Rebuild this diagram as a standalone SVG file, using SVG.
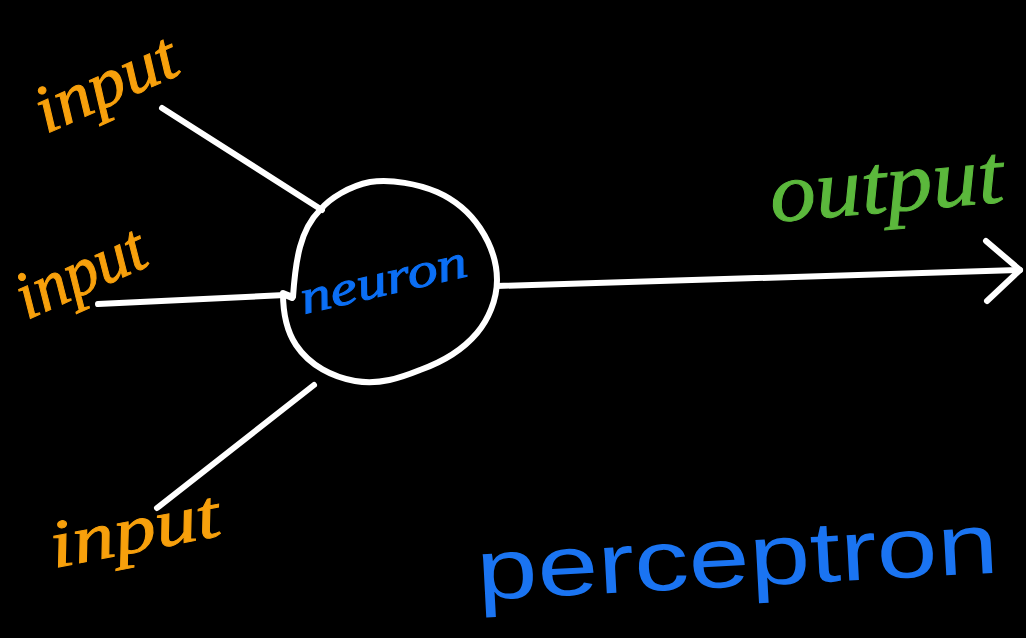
<svg xmlns="http://www.w3.org/2000/svg" width="1026" height="638" viewBox="0 0 1026 638">
  <style>
    .wire { fill: none; stroke: #ffffff; stroke-width: 6; stroke-linecap: round; stroke-linejoin: round; }
    .script { font-family: "Liberation Serif", "DejaVu Serif", serif; font-style: italic; }
    .in { fill: #f7a00c; font-size: 68px; stroke: #f7a00c; stroke-width: 1; }
    .out { fill: #5bb83c; font-size: 84px; stroke: #5bb83c; stroke-width: 1; }
    .cell { fill: #0b6ff5; font-size: 48px; stroke: #0b6ff5; stroke-width: 1; }
    .title { fill: #1a74f2; font-family: "Liberation Sans", "DejaVu Sans", sans-serif; font-size: 86px; }
  </style>

  <rect width="1026" height="638" fill="#000000"/>

  <!-- input edges and output arrow -->
  <g id="connectors">
    <path class="wire" d="M162,108 L322,210"/>
    <path class="wire" d="M98,304 L285,295 L292,298"/>
    <path class="wire" d="M157,508 L314,385"/>
    <path class="wire" d="M497,286 L1020,270"/>
    <path class="wire" d="M986,241 L1020,270 L987,301"/>
  </g>

  <!-- neuron body -->
  <g id="neuron">
    <path class="wire" d="M320,210 C330,198 350,186 370,182 C392,179 418,184 437,192 C455,200 470,213 480,228 C490,243 497,260 497,280 C497,300 488,320 477,333 C466,346 448,360 420,370 C400,378 380,385 355,381 C333,377 310,366 296,345 C286,330 283,313 283,293 L293,297 C294,282 296,262 300,247 C304,232 310,220 320,210 Z"/>
    <text class="script cell" x="0" y="0" transform="translate(304,314) rotate(-13)" textLength="170" lengthAdjust="spacingAndGlyphs">neuron</text>
  </g>

  <g id="input-1">
    <text class="script in" x="0" y="0" transform="translate(46,134) rotate(-24)" textLength="150" lengthAdjust="spacingAndGlyphs">input</text>
  </g>

  <g id="input-2">
    <text class="script in" x="0" y="0" transform="translate(27,320) rotate(-24)" textLength="136" lengthAdjust="spacingAndGlyphs">input</text>
  </g>

  <g id="input-3">
    <text class="script in" x="0" y="0" transform="translate(54,568) rotate(-11)" textLength="172" lengthAdjust="spacingAndGlyphs">input</text>
  </g>

  <g id="output">
    <text class="script out" x="0" y="0" transform="translate(772,222) rotate(-5)" textLength="234" lengthAdjust="spacingAndGlyphs">output</text>
  </g>

  <g id="perceptron">
    <text class="title" x="0" y="0" transform="translate(478,600) rotate(-3)" textLength="522" lengthAdjust="spacingAndGlyphs">perceptron</text>
  </g>
</svg>
